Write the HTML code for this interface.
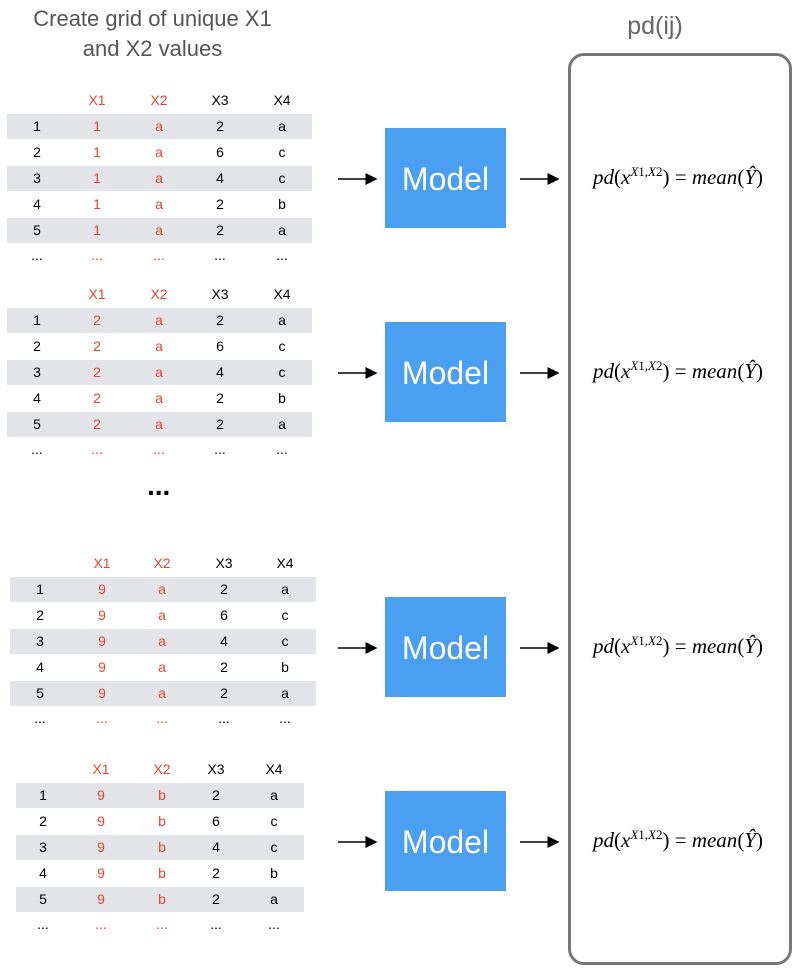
<!DOCTYPE html>
<html><head><meta charset="utf-8"><style>
body{margin:0;width:800px;height:970px;background:#fff;position:relative;overflow:hidden;font-family:"Liberation Sans",sans-serif}
.abs{position:absolute}
.title{left:0;width:305px;text-align:center;font-size:22px;color:#555;line-height:30px;top:4px}
.pd{left:600px;width:110px;text-align:center;font-size:25px;color:#666;top:12px}
.big{left:568px;top:53px;width:218px;height:906px;border:3px solid #777;border-radius:16px}
.model{background:#4a9ff0;color:#fff;font-size:32px;display:flex;align-items:center;justify-content:center;width:121px;height:100px;padding-top:2px;box-sizing:border-box}
.f{font-family:"Liberation Serif",serif;font-size:21px;color:#000;width:230px;text-align:center;left:563px;white-space:nowrap}
.f i{font-style:italic}
.f sup{font-size:13px}
.cell{position:absolute;text-align:center;font-size:14px;height:25px;line-height:25px}
.red{color:#e8432f}
</style></head><body>
<div class="abs title">Create grid of unique X1<br>and X2 values</div>
<div class="abs pd">pd(ij)</div>
<div class="abs big"></div>
<div class="abs" style="left:147px;top:470px;font-size:28px;font-weight:bold">...</div>
<svg class="abs" style="left:0;top:0" width="800" height="970">
<defs><marker id="ah" markerWidth="8" markerHeight="8" refX="7" refY="4" orient="auto"><path d="M0,0 L8,4 L0,8z" fill="#000"/></marker></defs>
<g id="arrowg" stroke="#000" stroke-width="1.5"></g>
</svg>
<div id="root"></div>
<script>
const x1vals=['1','2','9','9'];
const x2vals=['a','a','a','b'];
const x3vals=['2','6','4','2','2'];
const x4vals=['a','c','c','b','a'];
const tables=[{top:88,left:7,w:305,cx:[37,97,159,220,282],my:128},
{top:282,left:7,w:305,cx:[37,97,159,220,282],my:322},
{top:551,left:10,w:306,cx:[40,102,162,224,285],my:597},
{top:757,left:16,w:288,cx:[43,101,162,216,274],my:791}];
const root=document.getElementById('root');
const ag=document.getElementById('arrowg');
tables.forEach((t,ti)=>{
  const hdr=['','X1','X2','X3','X4'];
  hdr.forEach((h,ci)=>{const d=document.createElement('div');d.className='cell'+(ci==1||ci==2?' red':'');
    
    
    d.style.left=(t.cx[ci]-25)+'px';d.style.width='50px';d.style.top=t.top+'px';d.textContent=h;root.appendChild(d);});
  for(let r=0;r<5;r++){
    const y=t.top+26+r*26;
    if(r%2==0){const b=document.createElement('div');b.className='abs';
      
      
      b.style.cssText=`left:${t.left}px;top:${y}px;width:${t.w}px;height:25px;background:#e3e4e8`;root.appendChild(b);}
    const vals=[String(r+1),x1vals[ti],x2vals[ti],x3vals[r],x4vals[r]];
    vals.forEach((v,ci)=>{const d=document.createElement('div');d.className='cell'+(ci==1||ci==2?' red':'');
      
      
      d.style.left=(t.cx[ci]-25)+'px';d.style.width='50px';d.style.top=y+'px';d.textContent=v;root.appendChild(d);});
  }
  for(let ci=0;ci<5;ci++){const d=document.createElement('div');d.className='cell'+(ci==1||ci==2?' red':'');
    
    
    d.style.left=(t.cx[ci]-25)+'px';d.style.width='50px';d.style.top=(t.top+26*6+2)+'px';d.style.lineHeight='18px';d.textContent='...';root.appendChild(d);}
  const m=document.createElement('div');m.className='abs model';
  
  
  m.style.left='385px';m.style.top=t.my+'px';m.textContent='Model';root.appendChild(m);
  const f=document.createElement('div');f.className='abs f';
  
  
  f.style.top=(t.my+36)+'px';f.innerHTML='<i>pd</i>(<i>x</i><sup><i>X</i>1,<i>X</i>2</sup>) = <i>mean</i>(<i>Ŷ</i>)';root.appendChild(f);
  const ay=t.my+51;
  [[338,376],[520,558]].forEach(([a,b])=>{const l=document.createElementNS('http://www.w3.org/2000/svg','line');
    
    
    l.setAttribute('x1',a);l.setAttribute('x2',b);l.setAttribute('y1',ay);l.setAttribute('y2',ay);l.setAttribute('marker-end','url(#ah)');ag.appendChild(l);});
});
</script>
</body></html>
